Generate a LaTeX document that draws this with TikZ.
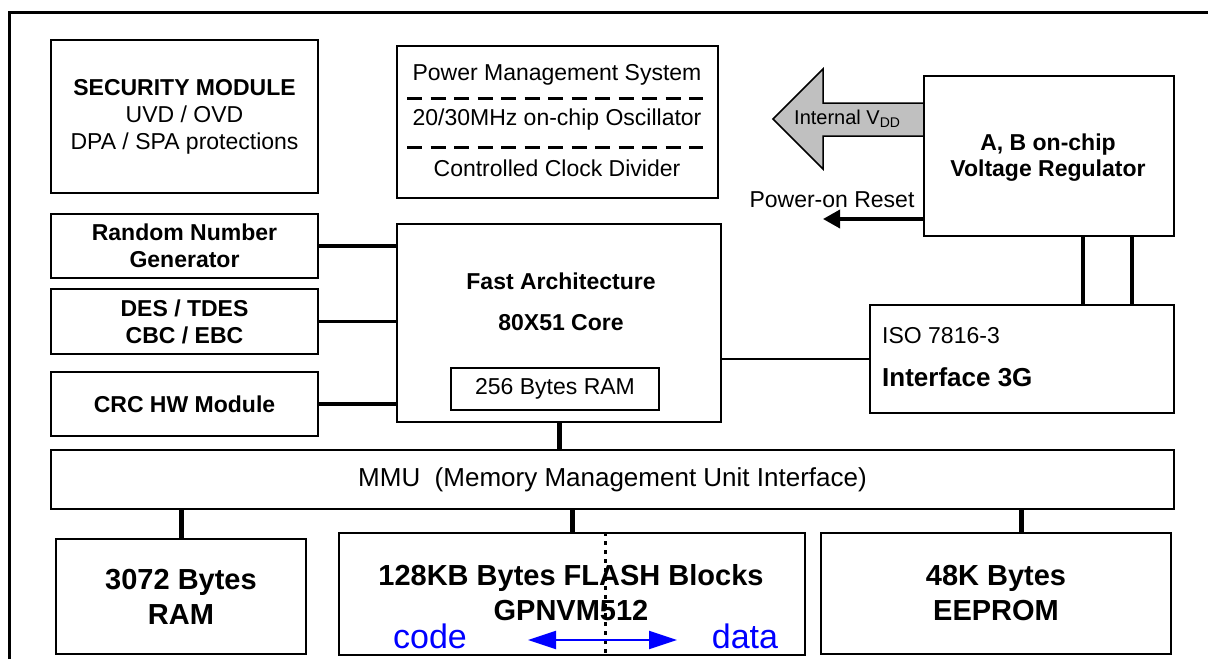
\documentclass[tikz,border=0pt]{standalone}
\usepackage{fontspec}
\setmainfont{Liberation Sans}
\usetikzlibrary{arrows.meta,calc}
\definecolor{arrowgray}{RGB}{192,192,192}
\newcommand\fsz[2]{\fontsize{#1}{#2}\selectfont}
\begin{document}
\begin{tikzpicture}[x=1pt,y=-1pt,
  box/.style={draw, line width=2pt, fill=white, anchor=north west, inner sep=0pt, align=center},
  lbl/.style={inner sep=0pt, align=center},
  tA/.style={font=\fsz{23}{27}},
  tB/.style={font=\fsz{23}{27}\bfseries},
  tBig/.style={font=\fsz{29}{35}\bfseries},
  conn/.style={line width=3.5pt},
  bus/.style={line width=5pt},
  dashsep/.style={line width=3pt, dash pattern=on 15pt off 8.5pt},
]
\useasboundingbox (0,0) rectangle (1208,659);
% outer frame
\draw[line width=3pt] (9,659) -- (9,12) -- (1208,12);

% gray arrow (Internal VDD)
\draw[fill=arrowgray, line width=1.5pt] (923,103) -- (823,103) -- (823,69) -- (773,119) -- (823,169) -- (823,136) -- (923,136);
\node[lbl, anchor=west, font=\fsz{20}{24}] (vdd) at (794,119) {Internal V\raisebox{-3pt}{\fsz{14}{14}DD}};

% boxes
\node[box, tA, minimum width=267pt, minimum height=153pt] (sec) at (50,39)
  {\textbf{SECURITY MODULE}\\UVD / OVD\\DPA / SPA protections};

\node[box, minimum width=321pt, minimum height=152pt] (pms) at (396,45) {};
\node[lbl, tA] (pms1) at (557,75) {Power Management System};
\node[lbl, tA] (pms2) at (557,120) {20/30MHz on-chip Oscillator};
\node[lbl, tA] (pms3) at (557,168) {Controlled Clock Divider};
\draw[dashsep] (407,98) -- (703,98);
\draw[dashsep] (407,147) -- (703,147);

\node[box, minimum width=250pt, minimum height=160pt] (vr) at (923,75) {};
\node[lbl, tB] (vrt) at (1048,158) {A, B on-chip\\[-1pt]Voltage Regulator};

\coordinate (porEnd) at (823,219);
\draw[conn, -{Triangle[length=17pt,width=18pt]}] (vr.west |- porEnd) -- (porEnd);
\node[lbl, tA] (por) at (832,200) {Power-on Reset};

\node[box, tB, minimum width=267pt, minimum height=64pt] (rng) at (50,213)
  {Random Number\\Generator};
\node[box, tB, minimum width=267pt, minimum height=65pt] (des) at (50,288)
  {DES / TDES\\CBC / EBC};
\node[box, tB, minimum width=267pt, minimum height=64pt] (crc) at (50,371)
  {CRC HW Module};

\node[box, minimum width=324pt, minimum height=198pt] (core) at (396,223) {};
\node[lbl, tB] (core1) at (561,281) {Fast Architecture};
\node[lbl, tB] (core2) at (561,323) {80X51 Core};
\node[box, tA, minimum width=208pt, minimum height=42pt] (cram) at (450,367) {256 Bytes RAM};

\node[box, minimum width=304pt, minimum height=108pt] (iso) at (869,304) {};
\node[lbl, tA, anchor=west] (iso1) at (882,336) {ISO 7816-3};
\node[lbl, anchor=west, font=\fsz{26}{30}\bfseries] (iso2) at (882,377) {Interface 3G};

\node[box, font=\fsz{26}{30}, minimum width=1123pt, minimum height=59pt] (mmu) at (50,449)
  {MMU\ \ (Memory Management Unit Interface)};

\node[box, tBig, minimum width=250pt, minimum height=115pt] (ram) at (55,538)
  {3072 Bytes\\RAM};
\node[box, minimum width=466pt, minimum height=122pt] (flash) at (338,532) {};
\node[box, tBig, minimum width=350pt, minimum height=121pt] (eep) at (820,532)
  {48K Bytes\\EEPROM};

% flash internals
\draw[line width=3pt, dash pattern=on 3.5pt off 5.5pt] ([xshift=33pt]flash.north) -- ([xshift=33pt]flash.south);
\node[lbl, tBig] (flasht) at (571,593) {128KB Bytes FLASH Blocks\\GPNVM512};
\node[lbl, text=blue, font=\fsz{34}{38}] (code) at (430,636) {code};
\node[lbl, text=blue, font=\fsz{34}{38}] (data) at (745,636) {data};
\coordinate (cl) at (528,640);
\coordinate (cr) at (677,640);
\draw[blue, line width=2pt, {Triangle[length=28pt,width=18pt]}-{Triangle[length=28pt,width=18pt]}] (cl) -- (cr);

% connectors
\draw[conn] (rng.east) -- (rng.east -| core.west);
\draw[conn] (des.east) -- (des.east -| core.west);
\draw[conn] (crc.east) -- (crc.east -| core.west);
\draw[line width=2.5pt] (core.east |- iso.west) -- (iso.west);
\draw[conn] ([xshift=34pt]vr.south) -- ([xshift=34pt]vr.south |- iso.north);
\draw[conn] ([xshift=83pt]vr.south) -- ([xshift=83pt]vr.south |- iso.north);
\draw[bus] (core.south) -- (core.south |- mmu.north);
\draw[bus] (ram.north) -- (ram.north |- mmu.south);
\draw[bus] (flash.north) -- (flash.north |- mmu.south);
\draw[bus] ([xshift=25pt]eep.north) -- ([xshift=25pt]eep.north |- mmu.south);
\end{tikzpicture}
\end{document}
